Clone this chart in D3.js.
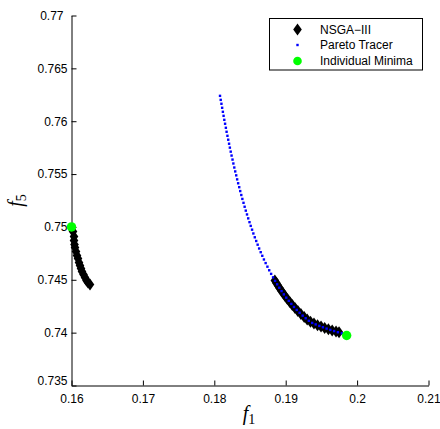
<!DOCTYPE html>
<html>
<head>
<meta charset="utf-8">
<script src="https://cdn.jsdelivr.net/npm/d3@7"></script>
<style>
  html, body { margin: 0; padding: 0; background: #fff; }
  svg { display: block; }
  .tick text { font-family: "Liberation Sans", Arial, sans-serif; font-size: 12px; fill: #000; }
</style>
</head>
<body>
<svg id="chart" width="440" height="429"></svg>
<script>
// Axis ticks
const xTicks = [0.16, 0.17, 0.18, 0.19, 0.2, 0.21];
const xTickLabels = ["0.16", "0.17", "0.18", "0.19", "0.2", "0.21"];
const yTicks = [0.735, 0.74, 0.745, 0.75, 0.755, 0.76, 0.765, 0.77];
const yTickLabels = ["0.735", "0.74", "0.745", "0.75", "0.755", "0.76", "0.765", "0.77"];

// NSGA-III solutions (f1, f5)
const nsgaF1 = [
  0.16021, 0.16035, 0.16035, 0.16042, 0.16049, 0.16063, 0.16077, 0.16091, 0.16105, 0.16119,
  0.16133, 0.16147, 0.16168, 0.16189, 0.16210, 0.16231, 0.16259,
  0.18848, 0.18869, 0.18891, 0.18913, 0.18936, 0.18961, 0.18991, 0.19023, 0.19057, 0.19092,
  0.19130, 0.19170, 0.19213, 0.19259, 0.19301, 0.19347, 0.19396, 0.19446, 0.19495, 0.19546,
  0.19598, 0.19651, 0.19705, 0.19747
];
const nsgaF5 = [
  0.74957, 0.74909, 0.74872, 0.74834, 0.74805, 0.74768, 0.74730, 0.74701, 0.74663, 0.74635,
  0.74607, 0.74578, 0.74550, 0.74522, 0.74493, 0.74474, 0.74455,
  0.74493, 0.74470, 0.74446, 0.74422, 0.74399, 0.74375, 0.74347, 0.74318, 0.74290, 0.74261,
  0.74233, 0.74205, 0.74176, 0.74148, 0.74124, 0.74103, 0.74086, 0.74071, 0.74058, 0.74045,
  0.74033, 0.74021, 0.74011, 0.74003
];

// Pareto Tracer front (f1, f5)
const tracerF1 = [
  0.18080, 0.18090, 0.18100, 0.18110, 0.18120, 0.18130, 0.18140, 0.18151, 0.18162, 0.18172,
  0.18184, 0.18195, 0.18207, 0.18218, 0.18230, 0.18242, 0.18255, 0.18267, 0.18280, 0.18293,
  0.18307, 0.18320, 0.18334, 0.18349, 0.18363, 0.18378, 0.18393, 0.18409, 0.18425, 0.18441,
  0.18458, 0.18475, 0.18493, 0.18510, 0.18529, 0.18547, 0.18567, 0.18587, 0.18607, 0.18628,
  0.18650, 0.18672, 0.18695, 0.18719, 0.18744, 0.18769, 0.18796, 0.18823, 0.18851, 0.18880,
  0.18910, 0.18942, 0.18974, 0.19008, 0.19043, 0.19079, 0.19116, 0.19155, 0.19195, 0.19237,
  0.19280, 0.19324, 0.19371, 0.19420, 0.19471, 0.19521, 0.19573, 0.19625, 0.19678, 0.19731,
  0.19786
];
const tracerF5 = [
  0.76240, 0.76202, 0.76165, 0.76127, 0.76089, 0.76051, 0.76013, 0.75976, 0.75938, 0.75900,
  0.75862, 0.75825, 0.75787, 0.75750, 0.75712, 0.75675, 0.75637, 0.75600, 0.75562, 0.75525,
  0.75488, 0.75450, 0.75413, 0.75376, 0.75339, 0.75302, 0.75265, 0.75228, 0.75191, 0.75154,
  0.75118, 0.75081, 0.75045, 0.75010, 0.74974, 0.74938, 0.74902, 0.74867, 0.74832, 0.74796,
  0.74761, 0.74727, 0.74692, 0.74658, 0.74624, 0.74590, 0.74556, 0.74523, 0.74490, 0.74457,
  0.74425, 0.74393, 0.74362, 0.74331, 0.74301, 0.74272, 0.74243, 0.74215, 0.74188, 0.74161,
  0.74136, 0.74112, 0.74092, 0.74078, 0.74064, 0.74051, 0.74038, 0.74026, 0.74015, 0.74004,
  0.73994
];

// Individual minima (f1, f5)
const minimaF1 = [0.1600, 0.19854];
const minimaF5 = [0.7500, 0.73973];

const legendLabels = ["NSGA\u2212III", "Pareto Tracer", "Individual Minima"];

const svg = d3.select("#chart");
const plotLeft = 71.5, plotRight = 428.5, plotTop = 15.5, plotBottom = 385.5;

const x = d3.scaleLinear().domain([0.16, 0.21]).range([plotLeft, plotRight]);
const y = d3.scaleLinear().domain([0.735, 0.77]).range([plotBottom, plotTop]);

// Axes with inward ticks, no box
const xAxis = d3.axisBottom(x).tickValues(xTicks)
  .tickFormat((d, i) => xTickLabels[i]).tickSizeInner(-5).tickSizeOuter(0).tickPadding(8);
const yAxis = d3.axisLeft(y).tickValues(yTicks)
  .tickFormat((d, i) => yTickLabels[i]).tickSizeInner(-5).tickSizeOuter(0).tickPadding(8);

const gx = svg.append("g").attr("transform", `translate(0,${plotBottom})`).call(xAxis);
const gy = svg.append("g").attr("transform", `translate(${plotLeft},0)`).call(yAxis);
[gx, gy].forEach(g => {
  g.select(".domain").attr("stroke", "#000").attr("stroke-width", 1);
  g.selectAll(".tick line").attr("stroke", "#000").attr("stroke-width", 1);
});
gx.selectAll(".tick text").attr("y", 9);
gy.selectAll(".tick text").attr("x", -4);
// lowest y label is lifted clear of the x labels
gy.selectAll(".tick text").filter((d) => d === 0.735).attr("dy", "-0.1em");
gy.selectAll(".tick text").filter((d) => d === 0.77).attr("x", -8);

// Axis titles
const xt = svg.append("text").attr("x", 249).attr("y", 420)
  .attr("text-anchor", "middle")
  .style("font-family", "'Liberation Serif', 'Times New Roman', serif");
xt.append("tspan").attr("font-style", "italic").attr("font-size", 20).text("f");
xt.append("tspan").attr("font-size", 14).attr("dy", 4).text("1");

const yt = svg.append("text")
  .attr("transform", `translate(22,${(plotTop + plotBottom) / 2}) rotate(-90)`)
  .attr("text-anchor", "middle")
  .style("font-family", "'Liberation Serif', 'Times New Roman', serif");
yt.append("tspan").attr("font-style", "italic").attr("font-size", 20).text("f");
yt.append("tspan").attr("font-size", 14).attr("dy", 4).text("5");

// Marker shapes
const diamond = "M0,-6L4.3,0L0,6L-4.3,0Z";

const nsga = nsgaF1.map((v, i) => [v, nsgaF5[i]]);
const tracer = tracerF1.map((v, i) => [v, tracerF5[i]]);
const minima = minimaF1.map((v, i) => [v, minimaF5[i]]);

svg.append("g").selectAll("path").data(nsga).join("path")
  .attr("d", diamond)
  .attr("transform", d => `translate(${x(d[0])},${y(d[1])})`)
  .attr("fill", "#000");

svg.append("g").selectAll("rect").data(tracer).join("rect")
  .attr("x", d => x(d[0]) - 1.2).attr("y", d => y(d[1]) - 1.2)
  .attr("width", 2.4).attr("height", 2.4)
  .attr("fill", "#0000ff");

svg.append("g").selectAll("circle").data(minima).join("circle")
  .attr("cx", d => x(d[0])).attr("cy", d => y(d[1])).attr("r", 4.7)
  .attr("fill", "#00ff00");

// Legend
const lg = svg.append("g");
lg.append("rect").attr("x", 269.5).attr("y", 18.5).attr("width", 153).attr("height", 51.5)
  .attr("fill", "#fff").attr("stroke", "#000").attr("stroke-width", 1);
const rowY = [29.5, 45, 61];
lg.append("path").attr("d", diamond).attr("transform", `translate(297.5,${rowY[0]})`).attr("fill", "#000");
lg.append("rect").attr("x", 296.3).attr("y", rowY[1] - 1.2).attr("width", 2.4).attr("height", 2.4).attr("fill", "#0000ff");
lg.append("circle").attr("cx", 297.5).attr("cy", rowY[2]).attr("r", 4.3).attr("fill", "#00ff00");
lg.selectAll("text.lab").data(legendLabels).join("text").attr("class", "lab")
  .attr("x", 320).attr("y", (d, i) => rowY[i] + 4.3)
  .style("font-family", "'Liberation Sans', Arial, sans-serif").style("font-size", "12px")
  .text(d => d);
</script>
</body>
</html>
